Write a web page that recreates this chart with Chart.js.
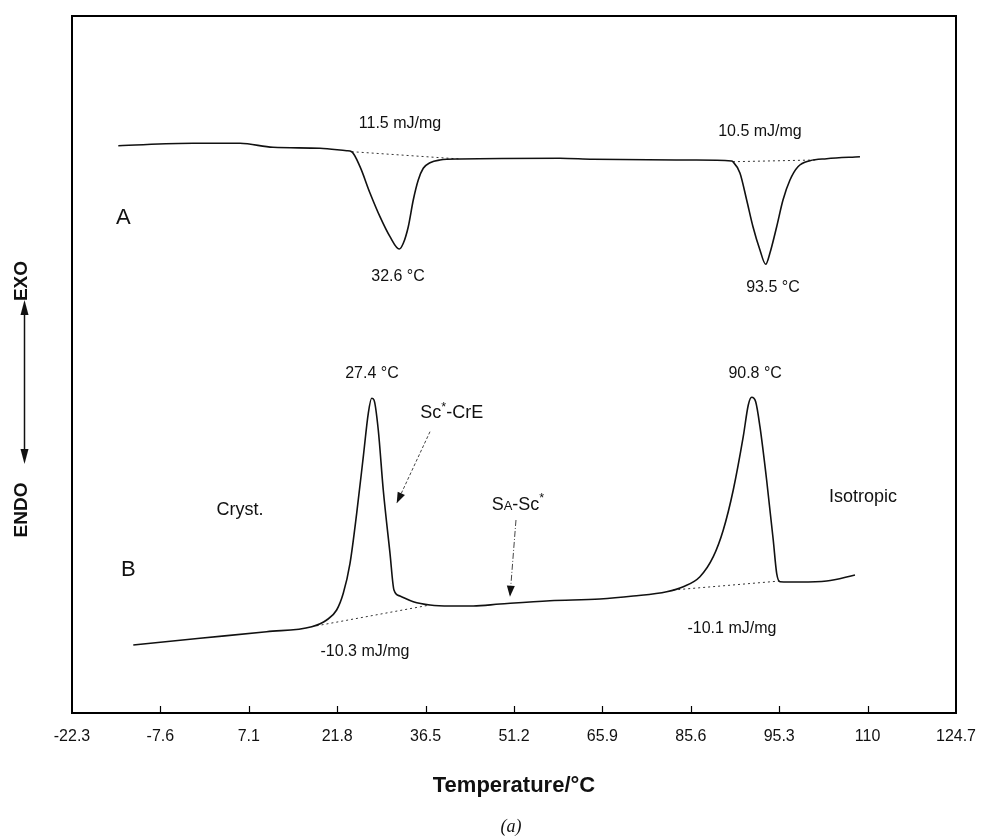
<!DOCTYPE html>
<html>
<head>
<meta charset="utf-8">
<style>
  html, body { margin: 0; padding: 0; background: #ffffff; }
  #wrap { width: 985px; height: 838px; }
</style>
<script src="https://cdn.jsdelivr.net/npm/chart.js@4.4.1/dist/chart.umd.min.js"></script>
</head>
<body>
<div id="wrap"><canvas id="c" width="985" height="838"></canvas></div>
<script>
// ---------- data ----------
const tickLabels = ['-22.3','-7.6','7.1','21.8','36.5','51.2','65.9','85.6','95.3','110','124.7'];

// Trace A (heating, endotherms downward)
const traceA_temp = [-14.60,-2.18,5.64,11.12,18.94,23.38,24.21,25.59,27.25,28.91,30.58,32.12,32.79,33.62,34.45,35.28,36.11,37.23,38.89,42.22,58.84,64.33,80.96,87.39,87.61,88.77,89.89,90.94,92.10,93.05,93.76,94.88,95.93,97.09,98.42,100.41,103.19,108.73];
const traceA_heat = [56.73,56.97,56.97,56.57,56.47,56.23,56.13,54.63,52.0,49.63,47.63,46.4,46.97,48.63,51.3,53.3,54.47,55.03,55.3,55.4,55.47,55.37,55.3,55.2,55.13,54.0,51.3,48.63,46.3,44.87,46.0,48.63,51.3,53.3,54.63,55.23,55.43,55.63];

// Trace B (cooling, exotherms upward)
const traceB_temp = [-12.11,-1.02,10.07,17.56,20.05,21.71,22.81,23.93,25.04,26.14,26.97,27.53,27.92,28.63,29.46,30.58,31.24,32.24,34.45,37.23,40.55,44.43,48.87,57.18,65.50,71.03,76.59,79.35,82.12,84.34,86.00,87.66,89.32,90.16,90.72,91.39,92.10,93.21,94.31,94.88,95.43,98.75,103.19,107.9];
const traceB_heat = [6.8,7.47,8.13,8.63,9.3,10.3,11.97,14.97,19.97,25.63,29.97,31.47,31.3,28.3,22.3,15.97,12.3,11.7,11.13,10.8,10.7,10.7,10.9,11.23,11.4,11.7,12.13,12.63,13.63,15.63,18.3,22.3,27.63,30.8,31.57,31.13,28.63,23.3,17.3,13.97,13.13,13.1,13.2,13.8];

// Integration baselines (dotted)
const baseA1_temp = [24.21, 42.22];  const baseA1_heat = [56.13, 55.4];
const baseA2_temp = [87.61, 101.25]; const baseA2_heat = [55.13, 55.3];
const baseB1_temp = [17.56, 37.23];  const baseB1_heat = [8.63, 10.8];
const baseB2_temp = [77.68, 95.43];  const baseB2_heat = [12.3, 13.2];

// Pointer arrows for transitions
const arrowCrE_temp = [37.23, 31.69]; const arrowCrE_heat = [28.13, 20.97];
const arrowSA_temp  = [51.53, 50.53]; const arrowSA_heat  = [19.3, 11.63];

// Annotation texts (segments: text, relative size, raise)
const annotations = [
  { seg: [['11.5 mJ/mg']], x: 32.24, y: 58.97, size: 16 },
  { seg: [['10.5 mJ/mg']], x: 92.10, y: 58.13, size: 16 },
  { seg: [['32.6 °C']], x: 31.91, y: 43.63, size: 16 },
  { seg: [['93.5 °C']], x: 94.26, y: 42.5, size: 16 },
  { seg: [['A']], x: -13.77, y: 49.47, size: 22 },
  { seg: [['27.4 °C']], x: 27.58, y: 33.97, size: 16 },
  { seg: [['90.8 °C']], x: 91.3, y: 33.9, size: 16 },
  { seg: [['Sc'], ['*', 0.7, -6], ['-CrE']], x: 40.84, y: 29.97, size: 18 },
  { seg: [['Cryst.']], x: 5.64, y: 20.3, size: 18 },
  { seg: [['S'], ['A', 0.72, 0], ['-Sc'], ['*', 0.7, -6]], x: 51.86, y: 20.8, size: 18 },
  { seg: [['Isotropic']], x: 109.23, y: 21.63, size: 18 },
  { seg: [['B']], x: -12.94, y: 14.3, size: 22 },
  { seg: [['-10.3 mJ/mg']], x: 26.42, y: 6.13, size: 16 },
  { seg: [['-10.1 mJ/mg']], x: 87.44, y: 8.47, size: 16 }
];

function pts(xs, ys) { return xs.map((x, i) => ({ x: x, y: ys[i] })); }

const FONT = "'Liberation Sans', Arial, Helvetica, sans-serif";

const solid = (label, data) => ({
  label, data, borderColor: '#111', borderWidth: 1.6, pointRadius: 0,
  cubicInterpolationMode: 'monotone', fill: false
});
const dotted = (label, data) => ({
  label, data, borderColor: '#333', borderWidth: 1, pointRadius: 0,
  borderDash: [2, 3], fill: false, tension: 0
});
const pointer = (label, data, dash) => ({
  label, data, borderColor: '#444', borderWidth: 1, pointRadius: 0,
  borderDash: dash, fill: false, tension: 0, isArrow: true
});

const decor = {
  id: 'decor',
  afterDatasetsDraw(chart) {
    const ctx = chart.ctx, a = chart.chartArea, xs = chart.scales.x;
    ctx.save();
    // frame
    ctx.strokeStyle = '#000'; ctx.lineWidth = 2;
    ctx.strokeRect(a.left, a.top, a.right - a.left, a.bottom - a.top);
    // inward ticks
    ctx.lineWidth = 1.2;
    xs.ticks.forEach((t, i) => {
      if (i === 0 || i === xs.ticks.length - 1) return;
      const px = Math.round(xs.getPixelForValue(t.value)) + 0.5;
      ctx.beginPath(); ctx.moveTo(px, a.bottom); ctx.lineTo(px, a.bottom - 7); ctx.stroke();
    });
    // arrowheads on pointer datasets
    chart.data.datasets.forEach((ds, di) => {
      if (!ds.isArrow) return;
      const meta = chart.getDatasetMeta(di);
      const p0 = meta.data[meta.data.length - 2], p1 = meta.data[meta.data.length - 1];
      const ang = Math.atan2(p1.y - p0.y, p1.x - p0.x);
      const L = 11, W = 4;
      ctx.fillStyle = '#111';
      ctx.beginPath();
      ctx.moveTo(p1.x, p1.y);
      ctx.lineTo(p1.x - L * Math.cos(ang) + W * Math.sin(ang), p1.y - L * Math.sin(ang) - W * Math.cos(ang));
      ctx.lineTo(p1.x - L * Math.cos(ang) - W * Math.sin(ang), p1.y - L * Math.sin(ang) + W * Math.cos(ang));
      ctx.closePath(); ctx.fill();
    });
    ctx.restore();
  },
  afterDraw(chart) {
    const ctx = chart.ctx, xs = chart.scales.x, ys = chart.scales.y;
    ctx.save();
    ctx.fillStyle = '#111';
    ctx.textBaseline = 'middle';
    // annotations
    annotations.forEach(an => {
      const cx = xs.getPixelForValue(an.x), cy = ys.getPixelForValue(an.y);
      let total = 0;
      const parts = an.seg.map(s => {
        const sz = an.size * (s[1] || 1);
        ctx.font = sz + 'px ' + FONT;
        const w = ctx.measureText(s[0]).width;
        total += w;
        return { t: s[0], sz, w, dy: s[2] || 0 };
      });
      let x = cx - total / 2;
      ctx.textAlign = 'left';
      parts.forEach(p => {
        ctx.font = p.sz + 'px ' + FONT;
        const shift = p.sz < an.size && p.dy === 0 ? (an.size - p.sz) * 0.36 : 0;
        ctx.fillText(p.t, x, cy + p.dy + shift);
        x += p.w;
      });
    });
    // y-axis label: ENDO <-> EXO
    ctx.textAlign = 'center';
    ctx.font = 'bold 19px ' + FONT;
    const lx = 22;
    [['EXO', 281], ['ENDO', 510]].forEach(([t, y]) => {
      ctx.save(); ctx.translate(lx, y); ctx.rotate(-Math.PI / 2);
      ctx.fillText(t, 0, 0); ctx.restore();
    });
    ctx.strokeStyle = '#111'; ctx.lineWidth = 1.5;
    const ax = 24.5, yTop = 300, yBot = 464;
    ctx.beginPath(); ctx.moveTo(ax, yTop + 10); ctx.lineTo(ax, yBot - 10); ctx.stroke();
    ctx.beginPath(); ctx.moveTo(ax, yTop); ctx.lineTo(ax - 4, yTop + 15); ctx.lineTo(ax + 4, yTop + 15); ctx.closePath(); ctx.fill();
    ctx.beginPath(); ctx.moveTo(ax, yBot); ctx.lineTo(ax - 4, yBot - 15); ctx.lineTo(ax + 4, yBot - 15); ctx.closePath(); ctx.fill();
    // panel caption
    ctx.font = 'italic 18px "Liberation Serif", "Times New Roman", serif';
    ctx.fillText('(a)', 511, 827);
    ctx.restore();
  }
};

new Chart(document.getElementById('c'), {
  type: 'line',
  data: {
    datasets: [
      solid('A', pts(traceA_temp, traceA_heat)),
      solid('B', pts(traceB_temp, traceB_heat)),
      dotted('baseline A1', pts(baseA1_temp, baseA1_heat)),
      dotted('baseline A2', pts(baseA2_temp, baseA2_heat)),
      dotted('baseline B1', pts(baseB1_temp, baseB1_heat)),
      dotted('baseline B2', pts(baseB2_temp, baseB2_heat)),
      pointer('Sc*-CrE', pts(arrowCrE_temp, arrowCrE_heat), [3, 2]),
      pointer('SA-Sc*', pts(arrowSA_temp, arrowSA_heat), [6, 2, 1, 2])
    ]
  },
  options: {
    responsive: false,
    animation: false,
    events: [],
    layout: { padding: { left: 72, right: 29, top: 16, bottom: 0 } },
    plugins: { legend: { display: false }, tooltip: { enabled: false }, title: { display: false } },
    scales: {
      x: {
        type: 'linear',
        min: -22.3, max: 124.7,
        afterFit(s) { s.height = 125; s.paddingLeft = 0; s.paddingRight = 0; },
        grid: { display: true, drawOnChartArea: false, drawTicks: false },
        border: { display: false },
        ticks: {
          stepSize: 14.7,
          padding: 14,
          maxRotation: 0,
          autoSkip: false,
          color: '#111',
          font: { family: FONT, size: 16 },
          callback: (v, i) => tickLabels[i]
        },
        title: {
          display: true,
          text: 'Temperature/°C',
          color: '#111',
          font: { family: FONT, size: 22, weight: 'bold' },
          padding: { top: 0, bottom: 39 }
        }
      },
      y: {
        display: false,
        min: 0, max: 69.7
      }
    }
  },
  plugins: [decor]
});
</script>
</body>
</html>
